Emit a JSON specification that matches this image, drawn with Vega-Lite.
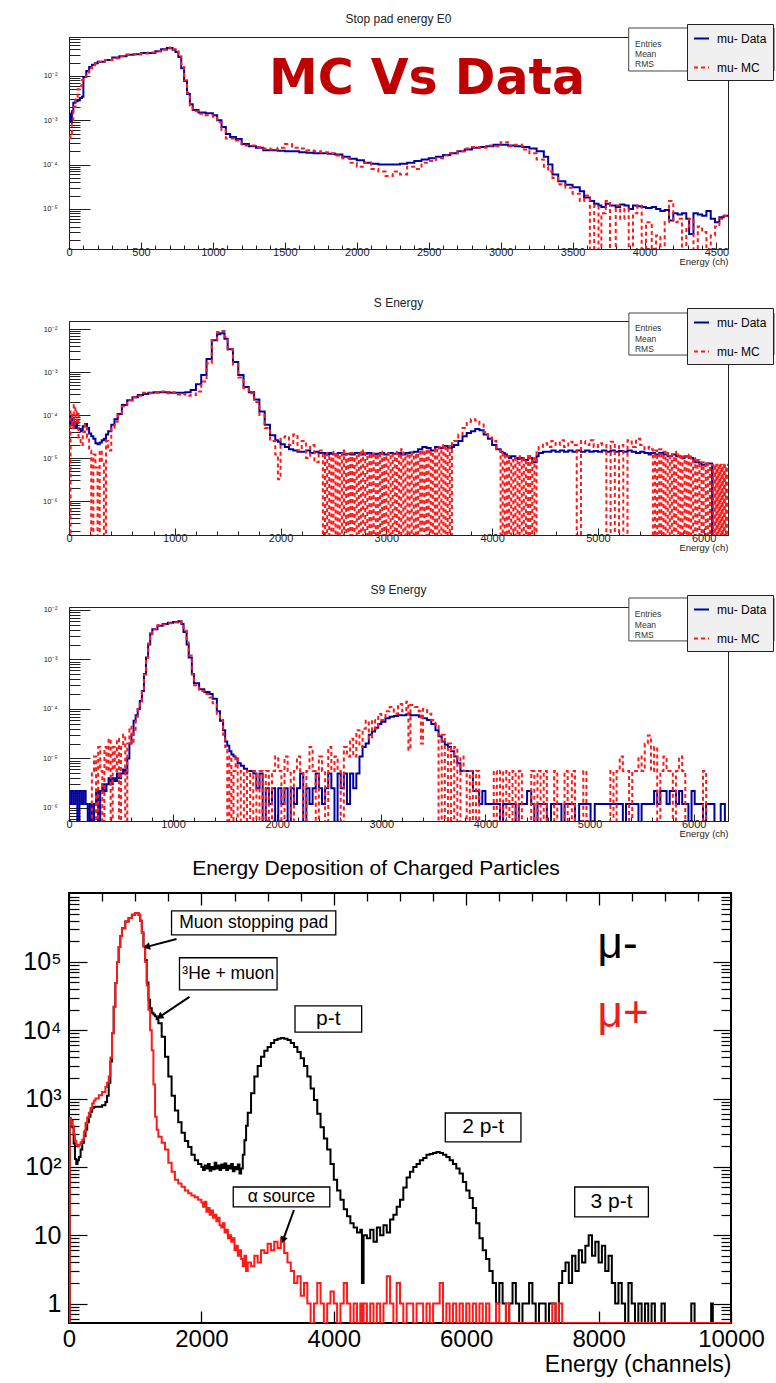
{
"$schema": "https://vega.github.io/schema/vega-lite/v6.json",
"background": "white",
"padding": {"left": 21, "top": 12, "right": 0, "bottom": 0},
"spacing": 72,
"bounds": "flush",
"resolve": {"scale": {"color": "independent", "strokeDash": "independent", "x": "independent", "y": "independent"}},
"config": {
  "font": "Liberation Sans",
  "view": {"stroke": null},
  "axis": {"grid": false, "domainColor": "#222", "tickColor": "#222", "labelColor": "#222", "titleColor": "#222", "titleFontWeight": "normal", "labelOverlap": false, "labelFlush": false, "labelBound": false},
  "title": {"fontWeight": "normal", "color": "#222", "frame": "group"}
},
"datasets": {
"p1": [
{"E":0,"Data":1.4e-3,"MC":4e-4},{"E":10,"Data":9.5e-4,"MC":5e-4},{"E":20,"Data":1.6e-3,"MC":1e-3},{"E":30,"Data":2.5e-3,"MC":2e-3},{"E":45,"Data":2.7e-3,"MC":3.4e-3},{"E":60,"Data":2.8e-3,"MC":5e-3},{"E":75,"Data":3.2e-3,"MC":6e-3},{"E":90,"Data":3.4e-3,"MC":8e-3},{"E":100,"Data":9.5e-3,"MC":9.5e-3},{"E":120,"Data":1.3e-2,"MC":1.2e-2},{"E":140,"Data":1.6e-2,"MC":1.5e-2},{"E":160,"Data":1.8e-2,"MC":1.75e-2},{"E":180,"Data":1.95e-2,"MC":1.9e-2},{"E":200,"Data":2.1e-2,"MC":2.1e-2},{"E":250,"Data":2.3e-2,"MC":2.3e-2},{"E":300,"Data":2.6e-2,"MC":2.5e-2},{"E":350,"Data":2.8e-2,"MC":2.8e-2},{"E":400,"Data":3e-2,"MC":3e-2},{"E":450,"Data":3.1e-2,"MC":3.1e-2},{"E":500,"Data":3.3e-2,"MC":3.2e-2},{"E":550,"Data":3.3e-2,"MC":3.4e-2},{"E":600,"Data":3.6e-2,"MC":3.6e-2},{"E":640,"Data":4e-2,"MC":3.9e-2},{"E":680,"Data":4.3e-2,"MC":4.2e-2},{"E":700,"Data":4.3e-2,"MC":4.4e-2},{"E":720,"Data":3.9e-2,"MC":4e-2},{"E":740,"Data":3.5e-2,"MC":3.6e-2},{"E":760,"Data":2.7e-2,"MC":2.8e-2},{"E":780,"Data":1.5e-2,"MC":1.6e-2},{"E":800,"Data":7.7e-3,"MC":8e-3},{"E":820,"Data":3.9e-3,"MC":4.2e-3},{"E":840,"Data":2.3e-3,"MC":2.2e-3},{"E":860,"Data":1.7e-3,"MC":1.6e-3},{"E":900,"Data":1.5e-3,"MC":1.4e-3},{"E":950,"Data":1.45e-3,"MC":1.3e-3},{"E":1000,"Data":1.3e-3,"MC":1.2e-3},{"E":1030,"Data":1e-3,"MC":9e-4},{"E":1060,"Data":7.1e-4,"MC":6e-4},{"E":1090,"Data":4.9e-4,"MC":3.9e-4},{"E":1120,"Data":4.2e-4,"MC":3.9e-4},{"E":1160,"Data":3.8e-4,"MC":3.5e-4},{"E":1200,"Data":2.9e-4,"MC":2.7e-4},{"E":1250,"Data":2.6e-4,"MC":2.7e-4},{"E":1300,"Data":2.4e-4,"MC":2.5e-4},{"E":1350,"Data":2.1e-4,"MC":2.3e-4},{"E":1400,"Data":2.1e-4,"MC":2.2e-4},{"E":1450,"Data":2.05e-4,"MC":2.4e-4},{"E":1500,"Data":2e-4,"MC":2.9e-4},{"E":1550,"Data":2e-4,"MC":2.4e-4},{"E":1600,"Data":1.9e-4,"MC":2.3e-4},{"E":1650,"Data":1.85e-4,"MC":2.1e-4},{"E":1700,"Data":1.8e-4,"MC":2e-4},{"E":1750,"Data":1.8e-4,"MC":1.9e-4},{"E":1800,"Data":1.75e-4,"MC":1.8e-4},{"E":1850,"Data":1.7e-4,"MC":1.6e-4},{"E":1900,"Data":1.5e-4,"MC":1.4e-4},{"E":1950,"Data":1.35e-4,"MC":1.1e-4},{"E":2000,"Data":1.25e-4,"MC":9e-5},{"E":2050,"Data":1.1e-4,"MC":1.1e-4},{"E":2100,"Data":1.05e-4,"MC":8e-5},{"E":2150,"Data":1e-4,"MC":7e-5},{"E":2200,"Data":1e-4,"MC":5.5e-5},{"E":2250,"Data":1e-4,"MC":7e-5},{"E":2300,"Data":1.05e-4,"MC":6e-5},{"E":2350,"Data":1.1e-4,"MC":9e-5},{"E":2400,"Data":1.2e-4,"MC":8e-5},{"E":2450,"Data":1.3e-4,"MC":1.1e-4},{"E":2500,"Data":1.4e-4,"MC":1.2e-4},{"E":2550,"Data":1.5e-4,"MC":1.4e-4},{"E":2600,"Data":1.65e-4,"MC":1.6e-4},{"E":2650,"Data":1.8e-4,"MC":1.8e-4},{"E":2700,"Data":2e-4,"MC":2e-4},{"E":2750,"Data":2.2e-4,"MC":2.3e-4},{"E":2800,"Data":2.4e-4,"MC":2.5e-4},{"E":2850,"Data":2.5e-4,"MC":2.4e-4},{"E":2900,"Data":2.6e-4,"MC":2.7e-4},{"E":2950,"Data":2.8e-4,"MC":2.6e-4},{"E":3000,"Data":2.8e-4,"MC":3.2e-4},{"E":3050,"Data":2.7e-4,"MC":2.6e-4},{"E":3100,"Data":2.6e-4,"MC":2.8e-4},{"E":3150,"Data":2.5e-4,"MC":2.2e-4},{"E":3200,"Data":2.3e-4,"MC":1.8e-4},{"E":3250,"Data":2e-4,"MC":1.3e-4},{"E":3300,"Data":1.5e-4,"MC":9e-5},{"E":3330,"Data":1e-4,"MC":7e-5},{"E":3360,"Data":6e-5,"MC":5e-5},{"E":3400,"Data":4.2e-5,"MC":3.6e-5},{"E":3450,"Data":3.5e-5,"MC":3e-5},{"E":3500,"Data":3.1e-5,"MC":2.2e-5},{"E":3550,"Data":2.5e-5,"MC":1.5e-5},{"E":3580,"Data":1.8e-5,"MC":2e-5},{"E":3620,"Data":1.5e-5,"MC":1e-9},{"E":3650,"Data":1.3e-5,"MC":1.2e-5},{"E":3680,"Data":1.2e-5,"MC":1e-9},{"E":3700,"Data":1.1e-5,"MC":8e-6},{"E":3730,"Data":1.3e-5,"MC":1.5e-5},{"E":3760,"Data":1.2e-5,"MC":1e-9},{"E":3800,"Data":1.1e-5,"MC":1.2e-5},{"E":3830,"Data":1.25e-5,"MC":6e-6},{"E":3860,"Data":1.2e-5,"MC":1e-5},{"E":3890,"Data":1e-5,"MC":1e-9},{"E":3920,"Data":1.2e-5,"MC":8e-6},{"E":3950,"Data":1.15e-5,"MC":1.2e-5},{"E":3980,"Data":1.1e-5,"MC":1e-9},{"E":4010,"Data":1.05e-5,"MC":5e-6},{"E":4050,"Data":1.1e-5,"MC":1e-9},{"E":4080,"Data":1e-5,"MC":2.5e-6},{"E":4110,"Data":9e-6,"MC":1e-9},{"E":4140,"Data":9.5e-6,"MC":5e-6},{"E":4170,"Data":5.5e-6,"MC":1.5e-5},{"E":4200,"Data":8e-6,"MC":5e-6},{"E":4230,"Data":7.5e-6,"MC":6e-6},{"E":4260,"Data":8e-6,"MC":1e-9},{"E":4290,"Data":6e-6,"MC":4e-6},{"E":4310,"Data":2.7e-6,"MC":6e-6},{"E":4340,"Data":8e-6,"MC":1e-9},{"E":4370,"Data":7.5e-6,"MC":4e-6},{"E":4400,"Data":7e-6,"MC":3e-6},{"E":4430,"Data":9e-6,"MC":1e-9},{"E":4460,"Data":6e-6,"MC":2.5e-6},{"E":4490,"Data":5e-6,"MC":4e-6},{"E":4520,"Data":6.5e-6,"MC":6e-6},{"E":4550,"Data":7e-6,"MC":7e-6},{"E":4580,"Data":7e-6,"MC":7e-6}
],
"p2": [
{"E":0,"Data":9e-5,"MC":1e-9},{"E":15,"Data":6e-5,"MC":1.2e-4},{"E":30,"Data":8e-5,"MC":5e-5},{"E":45,"Data":5e-5,"MC":1.7e-4},{"E":60,"Data":7e-5,"MC":6e-5},{"E":75,"Data":5e-5,"MC":1.2e-4},{"E":90,"Data":4.7e-5,"MC":3e-5},{"E":110,"Data":4.2e-5,"MC":2e-5},{"E":130,"Data":5.5e-5,"MC":4e-5},{"E":150,"Data":6.2e-5,"MC":6e-5},{"E":170,"Data":5e-5,"MC":3e-5},{"E":190,"Data":3.7e-5,"MC":1.5e-5},{"E":210,"Data":3.2e-5,"MC":1e-9},{"E":230,"Data":2.8e-5,"MC":1.2e-5},{"E":250,"Data":2.2e-5,"MC":6e-6},{"E":270,"Data":2.1e-5,"MC":1e-9},{"E":290,"Data":2.3e-5,"MC":1.5e-5},{"E":310,"Data":2.6e-5,"MC":8e-6},{"E":330,"Data":2.8e-5,"MC":1e-9},{"E":350,"Data":3.5e-5,"MC":2.5e-5},{"E":370,"Data":4.2e-5,"MC":1.5e-5},{"E":400,"Data":5.9e-5,"MC":5e-5},{"E":430,"Data":8e-5,"MC":7e-5},{"E":460,"Data":1.05e-4,"MC":1e-4},{"E":500,"Data":1.7e-4,"MC":1.6e-4},{"E":550,"Data":2.2e-4,"MC":2.2e-4},{"E":600,"Data":2.6e-4,"MC":2.6e-4},{"E":650,"Data":2.9e-4,"MC":2.8e-4},{"E":700,"Data":3.1e-4,"MC":3.3e-4},{"E":750,"Data":3.3e-4,"MC":3.2e-4},{"E":800,"Data":3.4e-4,"MC":3.3e-4},{"E":850,"Data":3.4e-4,"MC":3.5e-4},{"E":900,"Data":3.4e-4,"MC":3.2e-4},{"E":950,"Data":3.3e-4,"MC":3.4e-4},{"E":1000,"Data":3.3e-4,"MC":3e-4},{"E":1050,"Data":3.3e-4,"MC":3.1e-4},{"E":1100,"Data":3.4e-4,"MC":2.8e-4},{"E":1150,"Data":3.8e-4,"MC":2.9e-4},{"E":1200,"Data":5.2e-4,"MC":3.5e-4},{"E":1250,"Data":8.5e-4,"MC":6e-4},{"E":1300,"Data":2e-3,"MC":1.6e-3},{"E":1350,"Data":5.5e-3,"MC":5.5e-3},{"E":1400,"Data":7.6e-3,"MC":8.5e-3},{"E":1430,"Data":8e-3,"MC":9e-3},{"E":1470,"Data":5.9e-3,"MC":6.5e-3},{"E":1500,"Data":3.4e-3,"MC":3.4e-3},{"E":1550,"Data":1.7e-3,"MC":1.5e-3},{"E":1600,"Data":8.5e-4,"MC":7.5e-4},{"E":1650,"Data":4.5e-4,"MC":4.2e-4},{"E":1700,"Data":3.4e-4,"MC":3.2e-4},{"E":1750,"Data":2.3e-4,"MC":2e-4},{"E":1800,"Data":1.2e-4,"MC":1e-4},{"E":1850,"Data":5.9e-5,"MC":5e-5},{"E":1900,"Data":3.4e-5,"MC":2.5e-5},{"E":1950,"Data":2.6e-5,"MC":1.2e-5},{"E":1975,"Data":2.4e-5,"MC":3.2e-6},{"E":2000,"Data":2.1e-5,"MC":3e-5},{"E":2040,"Data":1.8e-5,"MC":3.2e-5},{"E":2080,"Data":1.6e-5,"MC":2e-5},{"E":2120,"Data":1.5e-5,"MC":3.5e-5},{"E":2160,"Data":1.4e-5,"MC":1.5e-5},{"E":2200,"Data":1.4e-5,"MC":2.5e-5},{"E":2240,"Data":1.5e-5,"MC":1e-5},{"E":2280,"Data":1.3e-5,"MC":2e-5},{"E":2320,"Data":1.4e-5,"MC":8e-6},{"E":2360,"Data":1.3e-5,"MC":1.5e-5},
{"E":2400,"Data":1.3e-5,"MC":1e-9},{"E":2420,"Data":1.25e-5,"MC":1.3e-5},{"E":2440,"Data":1.2e-5,"MC":1e-9},{"E":2460,"Data":1.3e-5,"MC":1.1e-5},{"E":2480,"Data":1.25e-5,"MC":1e-9},{"E":2500,"Data":1.2e-5,"MC":1.4e-5},{"E":2520,"Data":1.2e-5,"MC":1e-9},{"E":2540,"Data":1.3e-5,"MC":1.2e-5},{"E":2560,"Data":1.3e-5,"MC":1e-9},{"E":2580,"Data":1.2e-5,"MC":1.5e-5},{"E":2600,"Data":1.2e-5,"MC":1e-9},{"E":2620,"Data":1.25e-5,"MC":1.2e-5},{"E":2640,"Data":1.25e-5,"MC":1e-9},{"E":2660,"Data":1.2e-5,"MC":1.3e-5},{"E":2680,"Data":1.2e-5,"MC":1e-9},{"E":2700,"Data":1.3e-5,"MC":1.1e-5},{"E":2720,"Data":1.3e-5,"MC":1e-9},{"E":2740,"Data":1.2e-5,"MC":1.4e-5},{"E":2760,"Data":1.2e-5,"MC":1e-9},{"E":2780,"Data":1.25e-5,"MC":1.5e-5},{"E":2800,"Data":1.25e-5,"MC":1e-9},{"E":2820,"Data":1.3e-5,"MC":1.2e-5},{"E":2840,"Data":1.3e-5,"MC":1e-9},{"E":2860,"Data":1.2e-5,"MC":1.3e-5},{"E":2880,"Data":1.2e-5,"MC":1e-9},{"E":2900,"Data":1.25e-5,"MC":1.2e-5},{"E":2920,"Data":1.25e-5,"MC":1e-9},{"E":2940,"Data":1.3e-5,"MC":1.4e-5},{"E":2960,"Data":1.3e-5,"MC":1e-9},{"E":2980,"Data":1.2e-5,"MC":1.1e-5},{"E":3000,"Data":1.2e-5,"MC":1e-9},{"E":3020,"Data":1.3e-5,"MC":1.3e-5},{"E":3040,"Data":1.3e-5,"MC":1e-9},{"E":3060,"Data":1.25e-5,"MC":1.2e-5},{"E":3080,"Data":1.25e-5,"MC":1e-9},{"E":3100,"Data":1.3e-5,"MC":1.4e-5},{"E":3120,"Data":1.3e-5,"MC":1e-9},{"E":3140,"Data":1.2e-5,"MC":1.6e-5},{"E":3160,"Data":1.2e-5,"MC":1e-9},{"E":3180,"Data":1.3e-5,"MC":1.2e-5},{"E":3200,"Data":1.3e-5,"MC":1e-9},{"E":3220,"Data":1.35e-5,"MC":1.3e-5},{"E":3240,"Data":1.35e-5,"MC":1e-9},{"E":3260,"Data":1.4e-5,"MC":1.2e-5},{"E":3280,"Data":1.4e-5,"MC":1e-9},{"E":3300,"Data":1.6e-5,"MC":1.4e-5},{"E":3320,"Data":1.6e-5,"MC":1e-9},{"E":3340,"Data":1.8e-5,"MC":1.5e-5},{"E":3360,"Data":1.8e-5,"MC":1e-9},{"E":3380,"Data":1.7e-5,"MC":1.6e-5},{"E":3400,"Data":1.7e-5,"MC":1e-9},{"E":3420,"Data":1.5e-5,"MC":1.4e-5},{"E":3440,"Data":1.5e-5,"MC":1e-9},{"E":3460,"Data":1.8e-5,"MC":1.7e-5},{"E":3480,"Data":1.8e-5,"MC":1e-9},{"E":3500,"Data":1.7e-5,"MC":1.8e-5},{"E":3520,"Data":1.7e-5,"MC":1e-9},{"E":3540,"Data":1.9e-5,"MC":2e-5},{"E":3560,"Data":1.9e-5,"MC":1e-9},{"E":3580,"Data":1.7e-5,"MC":1.9e-5},{"E":3600,"Data":1.7e-5,"MC":1e-9},{"E":3620,"Data":1.8e-5,"MC":2.2e-5},
{"E":3640,"Data":2e-5,"MC":2.5e-5},{"E":3680,"Data":2.5e-5,"MC":3.5e-5},{"E":3720,"Data":3.2e-5,"MC":5e-5},{"E":3760,"Data":3.8e-5,"MC":7e-5},{"E":3800,"Data":4.2e-5,"MC":8e-5},{"E":3840,"Data":4.7e-5,"MC":7.5e-5},{"E":3880,"Data":4.4e-5,"MC":6e-5},{"E":3920,"Data":3.5e-5,"MC":4e-5},{"E":3960,"Data":2.8e-5,"MC":3e-5},{"E":4000,"Data":2e-5,"MC":2.5e-5},{"E":4040,"Data":1.6e-5,"MC":1.5e-5},
{"E":4080,"Data":1.4e-5,"MC":1e-9},{"E":4100,"Data":1.3e-5,"MC":1.3e-5},{"E":4120,"Data":1.2e-5,"MC":1e-9},{"E":4140,"Data":1.1e-5,"MC":1.1e-5},{"E":4160,"Data":1e-5,"MC":1e-9},{"E":4180,"Data":1.1e-5,"MC":9e-6},{"E":4200,"Data":1.1e-5,"MC":1e-9},{"E":4220,"Data":1e-5,"MC":1e-5},{"E":4240,"Data":9.5e-6,"MC":1e-9},{"E":4260,"Data":1e-5,"MC":1.1e-5},{"E":4280,"Data":1e-5,"MC":1e-9},{"E":4300,"Data":9e-6,"MC":1e-5},{"E":4320,"Data":9e-6,"MC":1e-9},{"E":4340,"Data":1e-5,"MC":1.2e-5},{"E":4360,"Data":1e-5,"MC":1e-9},{"E":4380,"Data":8e-6,"MC":1e-5},{"E":4400,"Data":8e-6,"MC":1e-9},{"E":4420,"Data":1.1e-5,"MC":1.5e-5},
{"E":4440,"Data":1.3e-5,"MC":1.8e-5},{"E":4480,"Data":1.4e-5,"MC":2.2e-5},{"E":4520,"Data":1.4e-5,"MC":1.8e-5},{"E":4560,"Data":1.5e-5,"MC":2.5e-5},{"E":4600,"Data":1.4e-5,"MC":2e-5},{"E":4640,"Data":1.5e-5,"MC":2.6e-5},{"E":4680,"Data":1.4e-5,"MC":1.8e-5},{"E":4720,"Data":1.5e-5,"MC":2.4e-5},{"E":4760,"Data":1.4e-5,"MC":2e-5},{"E":4800,"Data":1.5e-5,"MC":1e-9},{"E":4840,"Data":1.4e-5,"MC":2.5e-5},{"E":4880,"Data":1.5e-5,"MC":2e-5},{"E":4920,"Data":1.4e-5,"MC":2.6e-5},{"E":4960,"Data":1.45e-5,"MC":1.8e-5},{"E":5000,"Data":1.4e-5,"MC":2.2e-5},{"E":5040,"Data":1.5e-5,"MC":2e-5},{"E":5080,"Data":1.4e-5,"MC":1e-9},{"E":5120,"Data":1.5e-5,"MC":2.4e-5},{"E":5160,"Data":1.4e-5,"MC":1e-9},{"E":5200,"Data":1.45e-5,"MC":2e-5},{"E":5240,"Data":1.4e-5,"MC":1e-9},{"E":5280,"Data":1.5e-5,"MC":2.6e-5},{"E":5320,"Data":1.4e-5,"MC":1.8e-5},{"E":5360,"Data":1.3e-5,"MC":2.8e-5},{"E":5400,"Data":1.4e-5,"MC":2e-5},{"E":5440,"Data":1.3e-5,"MC":1.6e-5},{"E":5480,"Data":1.2e-5,"MC":1.8e-5},
{"E":5500,"Data":1.3e-5,"MC":1.6e-5},{"E":5520,"Data":1.3e-5,"MC":1e-9},{"E":5540,"Data":1.2e-5,"MC":1.5e-5},{"E":5560,"Data":1.2e-5,"MC":1e-9},{"E":5580,"Data":1.3e-5,"MC":1.6e-5},{"E":5600,"Data":1.3e-5,"MC":1e-9},{"E":5620,"Data":1.2e-5,"MC":1.4e-5},{"E":5640,"Data":1.2e-5,"MC":1e-9},{"E":5660,"Data":1.1e-5,"MC":1.3e-5},{"E":5680,"Data":1.1e-5,"MC":1e-9},{"E":5700,"Data":1.2e-5,"MC":1.2e-5},{"E":5720,"Data":1.2e-5,"MC":1e-9},{"E":5740,"Data":1.1e-5,"MC":1.4e-5},{"E":5760,"Data":1.1e-5,"MC":1e-9},{"E":5780,"Data":1.05e-5,"MC":1.2e-5},{"E":5800,"Data":1e-5,"MC":1e-9},{"E":5820,"Data":1.1e-5,"MC":1.1e-5},{"E":5840,"Data":1.1e-5,"MC":1e-9},{"E":5860,"Data":1e-5,"MC":1.2e-5},{"E":5880,"Data":1e-5,"MC":1e-9},{"E":5900,"Data":9e-6,"MC":1e-5},{"E":5920,"Data":8e-6,"MC":1e-9},{"E":5940,"Data":8e-6,"MC":9e-6},{"E":5960,"Data":7.5e-6,"MC":1e-9},{"E":5980,"Data":7e-6,"MC":8e-6},{"E":6000,"Data":7e-6,"MC":1e-9},{"E":6020,"Data":7.5e-6,"MC":8e-6},{"E":6040,"Data":7.5e-6,"MC":1e-9},{"E":6060,"Data":7.5e-6,"MC":7e-6},
{"E":6080,"Data":1e-9,"MC":7e-6},{"E":6090,"Data":1e-9,"MC":1e-9},{"E":6100,"Data":1e-9,"MC":7e-6},{"E":6110,"Data":1e-9,"MC":1e-9},{"E":6120,"Data":1e-9,"MC":7e-6},{"E":6130,"Data":1e-9,"MC":1e-9},{"E":6140,"Data":1e-9,"MC":7e-6},{"E":6150,"Data":1e-9,"MC":1e-9},{"E":6160,"Data":1e-9,"MC":7e-6},{"E":6170,"Data":1e-9,"MC":1e-9},{"E":6180,"Data":1e-9,"MC":7e-6},{"E":6190,"Data":1e-9,"MC":1e-9},{"E":6200,"Data":1e-9,"MC":7e-6},{"E":6210,"Data":1e-9,"MC":1e-9},{"E":6220,"Data":1e-9,"MC":7e-6},{"E":6230,"Data":1e-9,"MC":7e-6}
],
"p3": [
{"E":0,"Data":1.2e-6,"MC":1e-9},{"E":20,"Data":2.2e-6,"MC":1e-9},{"E":40,"Data":1.2e-6,"MC":1e-9},{"E":60,"Data":2.2e-6,"MC":1e-9},{"E":80,"Data":1e-9,"MC":1e-9},{"E":100,"Data":2.2e-6,"MC":1e-9},{"E":120,"Data":1.2e-6,"MC":1e-9},{"E":140,"Data":2.2e-6,"MC":1e-9},{"E":160,"Data":1.2e-6,"MC":1e-9},{"E":180,"Data":1e-9,"MC":1e-9},{"E":200,"Data":1.2e-6,"MC":1e-9},{"E":220,"Data":1e-9,"MC":5.6e-6},{"E":240,"Data":1.2e-6,"MC":1.1e-5},{"E":260,"Data":2.2e-6,"MC":1e-9},{"E":280,"Data":1e-9,"MC":1.7e-5},{"E":300,"Data":2.2e-6,"MC":5.6e-6},{"E":320,"Data":3e-6,"MC":1e-9},{"E":340,"Data":2.2e-6,"MC":1.7e-5},{"E":360,"Data":3e-6,"MC":5.6e-6},{"E":380,"Data":4e-6,"MC":2.5e-5},{"E":400,"Data":3e-6,"MC":1e-9},{"E":420,"Data":4e-6,"MC":1.7e-5},{"E":440,"Data":3.5e-6,"MC":5.6e-6},{"E":460,"Data":5e-6,"MC":2.5e-5},{"E":480,"Data":4e-6,"MC":1e-9},{"E":500,"Data":5e-6,"MC":1.7e-5},{"E":520,"Data":6e-6,"MC":3e-5},{"E":540,"Data":5e-6,"MC":1e-9},{"E":560,"Data":1e-5,"MC":2e-5},{"E":580,"Data":2e-5,"MC":4.4e-5},{"E":600,"Data":3e-5,"MC":2e-5},{"E":620,"Data":5.8e-5,"MC":3.5e-5},{"E":640,"Data":7.5e-5,"MC":7e-5},{"E":660,"Data":1e-4,"MC":1e-4},{"E":680,"Data":1.45e-4,"MC":1.4e-4},{"E":700,"Data":2.3e-4,"MC":2.3e-4},{"E":720,"Data":5.1e-4,"MC":5e-4},{"E":740,"Data":1.1e-3,"MC":1.1e-3},{"E":760,"Data":2e-3,"MC":2.1e-3},{"E":780,"Data":3.3e-3,"MC":3.4e-3},{"E":800,"Data":4.1e-3,"MC":4.1e-3},{"E":850,"Data":4.8e-3,"MC":4.9e-3},{"E":900,"Data":5.2e-3,"MC":5.1e-3},{"E":950,"Data":5.5e-3,"MC":5.4e-3},{"E":1000,"Data":5.7e-3,"MC":5.6e-3},{"E":1050,"Data":5.9e-3,"MC":5.9e-3},{"E":1080,"Data":5.2e-3,"MC":5.4e-3},{"E":1100,"Data":3.6e-3,"MC":3.8e-3},{"E":1130,"Data":2e-3,"MC":2.2e-3},{"E":1150,"Data":1.1e-3,"MC":1.2e-3},{"E":1180,"Data":5.1e-4,"MC":5e-4},{"E":1200,"Data":3.3e-4,"MC":3e-4},{"E":1250,"Data":2.5e-4,"MC":2.3e-4},{"E":1300,"Data":2.2e-4,"MC":2e-4},{"E":1350,"Data":2e-4,"MC":1.7e-4},{"E":1380,"Data":1.6e-4,"MC":1.3e-4},{"E":1420,"Data":9e-5,"MC":8e-5},{"E":1450,"Data":5.8e-5,"MC":6e-5},{"E":1480,"Data":3.7e-5,"MC":3e-5},{"E":1500,"Data":2.2e-5,"MC":1.7e-5},{"E":1520,"Data":1.8e-5,"MC":1e-9},{"E":1540,"Data":1.4e-5,"MC":1.1e-5},{"E":1560,"Data":1.2e-5,"MC":1e-9},{"E":1580,"Data":1.1e-5,"MC":5.6e-6},{"E":1600,"Data":1e-5,"MC":1.1e-5},{"E":1620,"Data":8e-6,"MC":1e-9},{"E":1650,"Data":7.1e-6,"MC":5.6e-6},{"E":1680,"Data":6.2e-6,"MC":1e-9},{"E":1710,"Data":5.6e-6,"MC":5.6e-6},{"E":1740,"Data":5.6e-6,"MC":1e-9},{"E":1770,"Data":5e-6,"MC":5.6e-6},{"E":1800,"Data":2.5e-6,"MC":1e-9},{"E":1830,"Data":5e-6,"MC":5.6e-6},{"E":1860,"Data":1e-9,"MC":1e-9},{"E":1890,"Data":2.5e-6,"MC":5.6e-6},{"E":1920,"Data":1.2e-6,"MC":1e-9},{"E":1950,"Data":2.5e-6,"MC":5.6e-6},{"E":1980,"Data":1e-9,"MC":1.1e-5},{"E":2010,"Data":2.5e-6,"MC":5.6e-6},{"E":2040,"Data":1.2e-6,"MC":1e-9},{"E":2070,"Data":2.5e-6,"MC":1.1e-5},{"E":2100,"Data":1e-9,"MC":5.6e-6},{"E":2130,"Data":2.5e-6,"MC":1e-9},{"E":2160,"Data":1.2e-6,"MC":5.6e-6},{"E":2190,"Data":2.5e-6,"MC":1.1e-5},{"E":2220,"Data":5e-6,"MC":5.6e-6},{"E":2250,"Data":1e-9,"MC":1e-9},{"E":2280,"Data":2.5e-6,"MC":5.6e-6},{"E":2310,"Data":1.2e-6,"MC":1.7e-5},{"E":2340,"Data":2.5e-6,"MC":5.6e-6},{"E":2370,"Data":5e-6,"MC":1e-9},{"E":2400,"Data":2.5e-6,"MC":1.1e-5},{"E":2430,"Data":1.2e-6,"MC":5.6e-6},{"E":2460,"Data":2.5e-6,"MC":1e-9},{"E":2490,"Data":5e-6,"MC":1.7e-5},{"E":2520,"Data":2.5e-6,"MC":5.6e-6},{"E":2550,"Data":1e-9,"MC":1.1e-5},{"E":2580,"Data":5e-6,"MC":5.6e-6},{"E":2610,"Data":2.5e-6,"MC":1e-9},{"E":2640,"Data":5e-6,"MC":1.7e-5},{"E":2670,"Data":1.2e-6,"MC":1.1e-5},{"E":2700,"Data":5e-6,"MC":2.5e-5},{"E":2730,"Data":2.5e-6,"MC":1.1e-5},{"E":2760,"Data":5e-6,"MC":3.7e-5},{"E":2790,"Data":1.1e-5,"MC":1.7e-5},{"E":2820,"Data":1.7e-5,"MC":4e-5},{"E":2850,"Data":2e-5,"MC":5.8e-5},{"E":2880,"Data":3e-5,"MC":2.5e-5},{"E":2910,"Data":3.5e-5,"MC":6e-5},{"E":2940,"Data":4.2e-5,"MC":4e-5},{"E":2970,"Data":5e-5,"MC":7.9e-5},{"E":3000,"Data":5.5e-5,"MC":6e-5},{"E":3040,"Data":6.5e-5,"MC":9e-5},{"E":3080,"Data":7e-5,"MC":1.1e-4},{"E":3120,"Data":7.2e-5,"MC":8e-5},{"E":3160,"Data":7.5e-5,"MC":1.26e-4},{"E":3200,"Data":7.5e-5,"MC":9e-5},{"E":3240,"Data":7.8e-5,"MC":1.4e-4},{"E":3260,"Data":7.8e-5,"MC":1.5e-5},{"E":3280,"Data":7.5e-5,"MC":1.2e-4},{"E":3320,"Data":7.5e-5,"MC":1.1e-4},{"E":3360,"Data":7e-5,"MC":9e-5},{"E":3380,"Data":7e-5,"MC":2e-5},{"E":3400,"Data":6.5e-5,"MC":1e-4},{"E":3440,"Data":6e-5,"MC":8e-5},{"E":3480,"Data":5e-5,"MC":6e-5},{"E":3520,"Data":3.7e-5,"MC":4.5e-5},{"E":3550,"Data":2.8e-5,"MC":1e-9},{"E":3580,"Data":2.2e-5,"MC":3e-5},{"E":3610,"Data":1.9e-5,"MC":1e-9},{"E":3640,"Data":1.7e-5,"MC":2e-5},{"E":3670,"Data":1.4e-5,"MC":1e-9},{"E":3700,"Data":1.1e-5,"MC":1.7e-5},{"E":3730,"Data":8e-6,"MC":1e-9},{"E":3760,"Data":5.6e-6,"MC":1.1e-5},{"E":3790,"Data":5.6e-6,"MC":5.6e-6},{"E":3820,"Data":5.6e-6,"MC":1e-9},{"E":3850,"Data":5.6e-6,"MC":5.6e-6},{"E":3880,"Data":2.2e-6,"MC":1e-9},{"E":3910,"Data":2.2e-6,"MC":5.6e-6},{"E":3940,"Data":1.2e-6,"MC":1e-9},{"E":3970,"Data":2.2e-6,"MC":1e-9},{"E":4000,"Data":1.2e-6,"MC":1e-9},{"E":4040,"Data":1.2e-6,"MC":1e-9},{"E":4080,"Data":1.2e-6,"MC":5.6e-6},{"E":4110,"Data":1.2e-6,"MC":1e-9},{"E":4140,"Data":1e-9,"MC":5.6e-6},{"E":4170,"Data":1.2e-6,"MC":1e-9},{"E":4200,"Data":1.2e-6,"MC":5.6e-6},{"E":4230,"Data":1.2e-6,"MC":1e-9},{"E":4260,"Data":1.2e-6,"MC":5.6e-6},{"E":4290,"Data":1e-9,"MC":1e-9},{"E":4320,"Data":1.2e-6,"MC":5.6e-6},{"E":4350,"Data":1.2e-6,"MC":1e-9},{"E":4400,"Data":2.2e-6,"MC":1e-9},{"E":4440,"Data":1.2e-6,"MC":5.6e-6},{"E":4470,"Data":1e-9,"MC":1e-9},{"E":4500,"Data":1.2e-6,"MC":5.6e-6},{"E":4530,"Data":1.2e-6,"MC":1e-9},{"E":4560,"Data":1.2e-6,"MC":5.6e-6},{"E":4590,"Data":1e-9,"MC":1e-9},{"E":4630,"Data":1.2e-6,"MC":1e-9},{"E":4660,"Data":1.2e-6,"MC":5.6e-6},{"E":4690,"Data":1.2e-6,"MC":1e-9},{"E":4730,"Data":1e-9,"MC":1e-9},{"E":4760,"Data":1.2e-6,"MC":5.6e-6},{"E":4790,"Data":1.2e-6,"MC":1e-9},{"E":4830,"Data":1.2e-6,"MC":5.6e-6},{"E":4860,"Data":1e-9,"MC":1e-9},{"E":4900,"Data":1.2e-6,"MC":1e-9},{"E":4940,"Data":1.2e-6,"MC":5.6e-6},{"E":4970,"Data":1.2e-6,"MC":1e-9},{"E":5010,"Data":1e-9,"MC":1e-9},{"E":5050,"Data":1.2e-6,"MC":1e-9},{"E":5100,"Data":1.2e-6,"MC":1e-9},{"E":5150,"Data":1.2e-6,"MC":1e-9},{"E":5200,"Data":1.2e-6,"MC":5.6e-6},{"E":5230,"Data":1.2e-6,"MC":1e-9},{"E":5260,"Data":1.2e-6,"MC":5.6e-6},{"E":5290,"Data":1.2e-6,"MC":1.1e-5},{"E":5320,"Data":1e-9,"MC":5.6e-6},{"E":5350,"Data":1.2e-6,"MC":5.6e-6},{"E":5380,"Data":1.2e-6,"MC":1e-9},{"E":5410,"Data":1.2e-6,"MC":5.6e-6},{"E":5440,"Data":1.2e-6,"MC":5.6e-6},{"E":5470,"Data":1e-9,"MC":1.1e-5},{"E":5500,"Data":1.2e-6,"MC":5.6e-6},{"E":5530,"Data":1.2e-6,"MC":2e-5},{"E":5560,"Data":1.2e-6,"MC":2.9e-5},{"E":5590,"Data":1.2e-6,"MC":5.6e-6},{"E":5620,"Data":2.2e-6,"MC":1.7e-5},{"E":5650,"Data":1.2e-6,"MC":1e-9},{"E":5680,"Data":2.2e-6,"MC":5.6e-6},{"E":5710,"Data":2.2e-6,"MC":1.1e-5},{"E":5740,"Data":1.2e-6,"MC":5.6e-6},{"E":5770,"Data":2.2e-6,"MC":5.6e-6},{"E":5800,"Data":2.2e-6,"MC":1e-9},{"E":5830,"Data":1.2e-6,"MC":5.6e-6},{"E":5860,"Data":2.2e-6,"MC":1.1e-5},{"E":5890,"Data":1.2e-6,"MC":5.6e-6},{"E":5920,"Data":1.2e-6,"MC":1e-9},{"E":5950,"Data":1e-9,"MC":1e-9},{"E":5980,"Data":2.2e-6,"MC":1e-9},{"E":6010,"Data":1.2e-6,"MC":1e-9},{"E":6060,"Data":1.2e-6,"MC":1e-9},{"E":6090,"Data":1e-9,"MC":5.6e-6},{"E":6120,"Data":1.2e-6,"MC":1e-9},{"E":6160,"Data":1.2e-6,"MC":1e-9},{"E":6200,"Data":1e-9,"MC":1e-9},{"E":6260,"Data":1.2e-6,"MC":1e-9},{"E":6300,"Data":1e-9,"MC":1e-9},{"E":6330,"Data":1e-9,"MC":1e-9}
],
"p4": [
{"E":0,"m":1e-9,"p":1e-9},{"E":10,"m":520,"p":520},{"E":30,"m":480,"p":460},{"E":50,"m":380,"p":400},{"E":70,"m":220,"p":300},{"E":90,"m":130,"p":240},{"E":110,"m":110,"p":210},{"E":130,"m":125,"p":200},{"E":150,"m":140,"p":210},{"E":175,"m":180,"p":230},{"E":200,"m":225,"p":250},{"E":225,"m":280,"p":330},{"E":250,"m":350,"p":440},{"E":275,"m":450,"p":530},{"E":300,"m":540,"p":620},{"E":325,"m":640,"p":730},{"E":350,"m":720,"p":850},{"E":375,"m":750,"p":930},{"E":400,"m":760,"p":1000},{"E":450,"m":760,"p":1120},{"E":500,"m":800,"p":1250},{"E":550,"m":890,"p":1480},{"E":575,"m":1100,"p":1700},{"E":600,"m":1700,"p":2100},{"E":625,"m":3500,"p":4000},{"E":650,"m":9000,"p":9000},{"E":675,"m":22000,"p":22000},{"E":700,"m":49000,"p":49000},{"E":725,"m":100000,"p":100000},{"E":750,"m":165000,"p":165000},{"E":775,"m":240000,"p":240000},{"E":800,"m":310000,"p":310000},{"E":850,"m":390000,"p":390000},{"E":900,"m":440000,"p":440000},{"E":950,"m":490000,"p":490000},{"E":1000,"m":520000,"p":520000},{"E":1050,"m":490000,"p":490000},{"E":1075,"m":400000,"p":400000},{"E":1100,"m":270000,"p":270000},{"E":1125,"m":170000,"p":170000},{"E":1150,"m":107000,"p":100000},{"E":1175,"m":50000,"p":45000},{"E":1200,"m":28000,"p":20000},{"E":1225,"m":21000,"p":10000},{"E":1250,"m":18000,"p":5100},{"E":1275,"m":17000,"p":1600},{"E":1300,"m":16000,"p":540},{"E":1325,"m":14500,"p":350},{"E":1350,"m":12700,"p":275},{"E":1400,"m":8000,"p":225},{"E":1450,"m":4100,"p":180},{"E":1500,"m":2100,"p":115},{"E":1550,"m":1100,"p":85},{"E":1600,"m":670,"p":65},{"E":1650,"m":450,"p":57},{"E":1700,"m":315,"p":51},{"E":1750,"m":240,"p":45},{"E":1800,"m":195,"p":41},{"E":1850,"m":150,"p":38},{"E":1900,"m":125,"p":36},{"E":1950,"m":110,"p":33},{"E":2000,"m":100,"p":30},{"E":2025,"m":90,"p":26},{"E":2050,"m":105,"p":31},{"E":2075,"m":95,"p":22},{"E":2100,"m":110,"p":25},{"E":2125,"m":88,"p":20},{"E":2150,"m":100,"p":23},{"E":2175,"m":92,"p":18},{"E":2200,"m":115,"p":20},{"E":2225,"m":95,"p":16},{"E":2250,"m":105,"p":18},{"E":2275,"m":90,"p":14},{"E":2300,"m":108,"p":13},{"E":2325,"m":96,"p":15},{"E":2350,"m":112,"p":11},{"E":2375,"m":90,"p":12},{"E":2400,"m":104,"p":9},{"E":2425,"m":95,"p":10},{"E":2450,"m":110,"p":8},{"E":2475,"m":86,"p":9},{"E":2500,"m":100,"p":6},{"E":2525,"m":92,"p":7},{"E":2550,"m":108,"p":5},{"E":2575,"m":80,"p":6},{"E":2600,"m":95,"p":4.5},{"E":2625,"m":150,"p":3.5},{"E":2650,"m":245,"p":5},{"E":2675,"m":400,"p":3},{"E":2700,"m":620,"p":4},{"E":2750,"m":1200,"p":3.5},{"E":2800,"m":2100,"p":5},{"E":2850,"m":3000,"p":4},{"E":2900,"m":4100,"p":6},{"E":2950,"m":5000,"p":5.5},{"E":3000,"m":5700,"p":7.5},{"E":3050,"m":6500,"p":6},{"E":3100,"m":7200,"p":8},{"E":3150,"m":7500,"p":6.5},{"E":3200,"m":7700,"p":9},{"E":3250,"m":7500,"p":5.5},{"E":3300,"m":7200,"p":4},{"E":3350,"m":6500,"p":3},{"E":3400,"m":5700,"p":2},{"E":3450,"m":4800,"p":2.5},{"E":3500,"m":3900,"p":1.3},{"E":3550,"m":3000,"p":2},{"E":3600,"m":2100,"p":1},{"E":3650,"m":1400,"p":1e-9},{"E":3700,"m":950,"p":1},{"E":3750,"m":600,"p":2},{"E":3800,"m":380,"p":1},{"E":3850,"m":260,"p":1e-9},{"E":3900,"m":180,"p":1},{"E":3950,"m":110,"p":1.5},{"E":4000,"m":65,"p":1},{"E":4050,"m":45,"p":1e-9},{"E":4100,"m":33,"p":1},{"E":4150,"m":24,"p":2},{"E":4200,"m":19,"p":1},{"E":4250,"m":15,"p":1e-9},{"E":4300,"m":13,"p":1},{"E":4350,"m":11,"p":1e-9},{"E":4400,"m":12,"p":1},{"E":4425,"m":2,"p":1e-9},{"E":4450,"m":10,"p":1},{"E":4500,"m":9,"p":1e-9},{"E":4550,"m":12,"p":1},{"E":4600,"m":8,"p":1e-9},{"E":4650,"m":13,"p":1},{"E":4700,"m":10,"p":1e-9},{"E":4750,"m":14,"p":1},{"E":4800,"m":11,"p":2.5},{"E":4850,"m":17,"p":1},{"E":4900,"m":20,"p":1e-9},{"E":4950,"m":26,"p":2},{"E":5000,"m":33,"p":1},{"E":5050,"m":50,"p":1e-9},{"E":5100,"m":70,"p":1},{"E":5150,"m":85,"p":1},{"E":5200,"m":100,"p":1e-9},{"E":5250,"m":110,"p":1},{"E":5300,"m":125,"p":1},{"E":5350,"m":135,"p":1e-9},{"E":5400,"m":150,"p":1},{"E":5450,"m":155,"p":1e-9},{"E":5500,"m":160,"p":1},{"E":5550,"m":165,"p":1},{"E":5600,"m":160,"p":2},{"E":5650,"m":150,"p":1e-9},{"E":5700,"m":140,"p":1},{"E":5750,"m":125,"p":1e-9},{"E":5800,"m":110,"p":1},{"E":5850,"m":95,"p":1e-9},{"E":5900,"m":80,"p":1},{"E":5950,"m":60,"p":1e-9},{"E":6000,"m":45,"p":1},{"E":6050,"m":35,"p":1e-9},{"E":6100,"m":25,"p":1},{"E":6150,"m":15,"p":1e-9},{"E":6200,"m":9,"p":1},{"E":6250,"m":6,"p":1e-9},{"E":6300,"m":4.5,"p":1},{"E":6350,"m":3,"p":1e-9},{"E":6400,"m":2,"p":1e-9},{"E":6450,"m":1,"p":1},{"E":6500,"m":2,"p":1e-9},{"E":6550,"m":1,"p":1e-9},{"E":6600,"m":1e-9,"p":1},{"E":6650,"m":1,"p":1e-9},{"E":6700,"m":2,"p":1e-9},{"E":6750,"m":1,"p":1e-9},{"E":6800,"m":1e-9,"p":1e-9},{"E":6850,"m":1,"p":1e-9},{"E":6900,"m":1,"p":1e-9},{"E":6950,"m":2,"p":1e-9},{"E":7000,"m":1,"p":1e-9},{"E":7050,"m":1e-9,"p":1e-9},{"E":7100,"m":1,"p":1e-9},{"E":7150,"m":1,"p":1e-9},{"E":7200,"m":1e-9,"p":1e-9},{"E":7250,"m":1,"p":1e-9},{"E":7300,"m":1,"p":1},{"E":7350,"m":1e-9,"p":1e-9},{"E":7400,"m":2,"p":1},{"E":7450,"m":3,"p":1e-9},{"E":7500,"m":4,"p":1e-9},{"E":7550,"m":2,"p":1e-9},{"E":7600,"m":5,"p":1e-9},{"E":7650,"m":3,"p":1e-9},{"E":7700,"m":6,"p":1e-9},{"E":7750,"m":4,"p":1e-9},{"E":7800,"m":7,"p":1e-9},{"E":7850,"m":10,"p":1e-9},{"E":7900,"m":5,"p":1e-9},{"E":7950,"m":8,"p":1e-9},{"E":8000,"m":4,"p":1e-9},{"E":8050,"m":7,"p":1e-9},{"E":8100,"m":3,"p":1e-9},{"E":8150,"m":5,"p":1e-9},{"E":8200,"m":2,"p":1e-9},{"E":8250,"m":1,"p":1e-9},{"E":8300,"m":2,"p":1e-9},{"E":8350,"m":1,"p":1e-9},{"E":8400,"m":1e-9,"p":1e-9},{"E":8450,"m":2,"p":1e-9},{"E":8500,"m":1,"p":1e-9},{"E":8550,"m":1e-9,"p":1e-9},{"E":8600,"m":1,"p":1e-9},{"E":8650,"m":1e-9,"p":1e-9},{"E":8700,"m":1,"p":1e-9},{"E":8750,"m":1e-9,"p":1e-9},{"E":8800,"m":1,"p":1e-9},{"E":8850,"m":1e-9,"p":1e-9},{"E":8950,"m":1,"p":1e-9},{"E":9000,"m":1e-9,"p":1e-9},{"E":9400,"m":1,"p":1e-9},{"E":9450,"m":1e-9,"p":1e-9},{"E":9700,"m":1,"p":1e-9},{"E":9725,"m":1e-9,"p":1e-9},{"E":10000,"m":1e-9,"p":1e-9}
]
},
"vconcat": [
{
  "width": 659, "height": 212,
  "title": {"text": "Stop pad energy E0", "fontSize": 12, "offset": -2},
  "view": {"stroke": "#222", "strokeWidth": 1},
  "resolve": {"axis": {"x": "independent", "y": "independent"}},
  "layer": [
    {
      "data": {"name": "p1"},
      "transform": [{"fold": ["Data", "MC"], "as": ["series", "value"]}],
      "mark": {"type": "line", "interpolate": "step-after", "strokeWidth": 2, "clip": true},
      "encoding": {
        "x": {"field": "E", "type": "quantitative", "scale": {"domain": [0, 4580], "nice": false, "zero": false},
          "axis": {"orient": "bottom", "title": "Energy (ch)", "titleAnchor": "end", "titleFontSize": 9.5, "titlePadding": -1, "format": "d", "labelOverlap": false,
            "values": [0,500,1000,1500,2000,2500,3000,3500,4000,4500],
            "labelFontSize": 11, "labelPadding": 4, "tickSize": -7}},
        "y": {"field": "value", "type": "quantitative", "scale": {"type": "log", "domain": [1.245e-6, 0.0759], "nice": false},
          "axis": {"orient": "left", "title": null, "labelOverlap": "greedy",
            "values": [2e-6,3e-6,4e-6,5e-6,6e-6,7e-6,8e-6,9e-6,1e-5,2e-5,3e-5,4e-5,5e-5,6e-5,7e-5,8e-5,9e-5,1e-4,2e-4,3e-4,4e-4,5e-4,6e-4,7e-4,8e-4,9e-4,1e-3,2e-3,3e-3,4e-3,5e-3,6e-3,7e-3,8e-3,9e-3,0.01,0.02,0.03,0.04,0.05,0.06,0.07],
            "labelExpr": "abs(log(datum.value)/LN10 - round(log(datum.value)/LN10)) < 0.001 ? '10⁻' + substring('⁰¹²³⁴⁵⁶⁷⁸⁹', -round(log(datum.value)/LN10), -round(log(datum.value)/LN10) + 1) : ''",
            "labelFontSize": 7.5, "labelPadding": 33,
            "tickSize": {"condition": {"test": "abs(log(datum.value)/LN10 - round(log(datum.value)/LN10)) < 0.001", "value": -21}, "value": -11}}},
        "color": {"field": "series", "type": "nominal", "scale": {"domain": ["Data", "MC"], "range": ["#0000a0", "#ff1a1a"]},
          "legend": {"orient": "none", "legendX": 618, "legendY": -13, "title": null, "fillColor": "#f0f0f0", "strokeColor": "#222", "padding": 6, "labelFontSize": 12, "labelColor": "#000", "labelExpr": "'mu- ' + datum.label", "symbolSize": 225, "symbolStrokeWidth": 2, "rowPadding": 14, "labelOffset": 7}},
        "strokeDash": {"field": "series", "type": "nominal", "scale": {"domain": ["Data", "MC"], "range": [[1, 0], [4, 3]]},
          "legend": {"orient": "none", "legendX": 618, "legendY": -13, "title": null, "fillColor": "#f0f0f0", "strokeColor": "#222", "padding": 6, "labelFontSize": 12, "labelColor": "#000", "labelExpr": "'mu- ' + datum.label", "symbolSize": 225, "symbolStrokeWidth": 2, "rowPadding": 14, "labelOffset": 7}}
      }
    },
    {
      "data": {"values": [{"x1": 3890, "x2": 4900, "y1": 0.1212, "y2": 0.01297}]},
      "mark": {"type": "rect", "fill": "white", "stroke": "#444", "strokeWidth": 1, "clip": false},
      "encoding": {
        "x": {"field": "x1", "type": "quantitative",
          "axis": {"orient": "bottom", "title": null, "labels": false, "domain": false, "tickSize": -4,
            "values": [0,100,200,300,400,500,600,700,800,900,1000,1100,1200,1300,1400,1500,1600,1700,1800,1900,2000,2100,2200,2300,2400,2500,2600,2700,2800,2900,3000,3100,3200,3300,3400,3500,3600,3700,3800,3900,4000,4100,4200,4300,4400,4500]}},
        "x2": {"field": "x2"},
        "y": {"field": "y1", "type": "quantitative", "axis": null}, "y2": {"field": "y2"}}
    },
    {
      "data": {"values": [{"t": "Entries", "tx": 3934, "ty": 0.0527}, {"t": "Mean", "tx": 3934, "ty": 0.0314}, {"t": "RMS", "tx": 3934, "ty": 0.0187}]},
      "mark": {"type": "text", "align": "left", "baseline": "middle", "fontSize": 8.5, "color": "#333", "clip": false},
      "encoding": {"x": {"field": "tx", "type": "quantitative", "axis": null}, "y": {"field": "ty", "type": "quantitative", "axis": null}, "text": {"field": "t"}}
    },
    {
      "data": {"values": [{"t": "MC Vs Data", "tx": 2488, "ty": 0.00393}]},
      "mark": {"type": "text", "align": "center", "baseline": "alphabetic", "font": "DejaVu Sans", "fontWeight": "bold", "fontSize": 49, "color": "#c00000", "clip": false},
      "encoding": {"x": {"field": "tx", "type": "quantitative", "axis": null}, "y": {"field": "ty", "type": "quantitative", "axis": null}, "text": {"field": "t"}}
    }
  ]
},
{
  "width": 659, "height": 214,
  "title": {"text": "S Energy", "fontSize": 12, "offset": -2},
  "view": {"stroke": "#222", "strokeWidth": 1},
  "resolve": {"axis": {"x": "independent", "y": "independent"}},
  "layer": [
    {
      "data": {"name": "p2"},
      "transform": [{"fold": ["Data", "MC"], "as": ["series", "value"]}],
      "mark": {"type": "line", "interpolate": "step-after", "strokeWidth": 2, "clip": true},
      "encoding": {
        "x": {"field": "E", "type": "quantitative", "scale": {"domain": [0, 6230], "nice": false, "zero": false},
          "axis": {"orient": "bottom", "title": "Energy (ch)", "titleAnchor": "end", "titleFontSize": 9.5, "titlePadding": -1, "format": "d", "labelOverlap": false,
            "values": [0,1000,2000,3000,4000,5000,6000],
            "labelFontSize": 11, "labelPadding": 4, "tickSize": -7}},
        "y": {"field": "value", "type": "quantitative", "scale": {"type": "log", "domain": [1.62e-7, 0.01535], "nice": false},
          "axis": {"orient": "left", "title": null, "labelOverlap": "greedy",
            "values": [2e-7,3e-7,4e-7,5e-7,6e-7,7e-7,8e-7,9e-7,1e-6,2e-6,3e-6,4e-6,5e-6,6e-6,7e-6,8e-6,9e-6,1e-5,2e-5,3e-5,4e-5,5e-5,6e-5,7e-5,8e-5,9e-5,1e-4,2e-4,3e-4,4e-4,5e-4,6e-4,7e-4,8e-4,9e-4,1e-3,2e-3,3e-3,4e-3,5e-3,6e-3,7e-3,8e-3,9e-3,0.01],
            "labelExpr": "abs(log(datum.value)/LN10 - round(log(datum.value)/LN10)) < 0.001 ? '10⁻' + substring('⁰¹²³⁴⁵⁶⁷⁸⁹', -round(log(datum.value)/LN10), -round(log(datum.value)/LN10) + 1) : ''",
            "labelFontSize": 7.5, "labelPadding": 33,
            "tickSize": {"condition": {"test": "abs(log(datum.value)/LN10 - round(log(datum.value)/LN10)) < 0.001", "value": -21}, "value": -11}}},
        "color": {"field": "series", "type": "nominal", "scale": {"domain": ["Data", "MC"], "range": ["#0000a0", "#ff1a1a"]},
          "legend": {"orient": "none", "legendX": 618, "legendY": -13, "title": null, "fillColor": "#f0f0f0", "strokeColor": "#222", "padding": 6, "labelFontSize": 12, "labelColor": "#000", "labelExpr": "'mu- ' + datum.label", "symbolSize": 225, "symbolStrokeWidth": 2, "rowPadding": 14, "labelOffset": 7}},
        "strokeDash": {"field": "series", "type": "nominal", "scale": {"domain": ["Data", "MC"], "range": [[1, 0], [4, 3]]},
          "legend": {"orient": "none", "legendX": 618, "legendY": -13, "title": null, "fillColor": "#f0f0f0", "strokeColor": "#222", "padding": 6, "labelFontSize": 12, "labelColor": "#000", "labelExpr": "'mu- ' + datum.label", "symbolSize": 225, "symbolStrokeWidth": 2, "rowPadding": 14, "labelOffset": 7}}
      }
    },
    {
      "data": {"values": [{"x1": 5293, "x2": 6665, "y1": 0.02355, "y2": 0.00248}]},
      "mark": {"type": "rect", "fill": "white", "stroke": "#444", "strokeWidth": 1, "clip": false},
      "encoding": {
        "x": {"field": "x1", "type": "quantitative",
          "axis": {"orient": "bottom", "title": null, "labels": false, "domain": false, "tickSize": -4,
            "values": [0,200,400,600,800,1000,1200,1400,1600,1800,2000,2200,2400,2600,2800,3000,3200,3400,3600,3800,4000,4200,4400,4600,4800,5000,5200,5400,5600,5800,6000,6200]}},
        "x2": {"field": "x2"},
        "y": {"field": "y1", "type": "quantitative", "axis": null}, "y2": {"field": "y2"}}
    },
    {
      "data": {"values": [{"t": "Entries", "tx": 5350, "ty": 0.01055}, {"t": "Mean", "tx": 5350, "ty": 0.00585}, {"t": "RMS", "tx": 5350, "ty": 0.00343}]},
      "mark": {"type": "text", "align": "left", "baseline": "middle", "fontSize": 8.5, "color": "#333", "clip": false},
      "encoding": {"x": {"field": "tx", "type": "quantitative", "axis": null}, "y": {"field": "ty", "type": "quantitative", "axis": null}, "text": {"field": "t"}}
    }
  ]
},
{
  "width": 659, "height": 214,
  "title": {"text": "S9 Energy", "fontSize": 12, "offset": -2},
  "view": {"stroke": "#222", "strokeWidth": 1},
  "resolve": {"axis": {"x": "independent", "y": "independent"}},
  "layer": [
    {
      "data": {"name": "p3"},
      "transform": [{"fold": ["Data", "MC"], "as": ["series", "value"]}],
      "mark": {"type": "line", "interpolate": "step-after", "strokeWidth": 2, "clip": true},
      "encoding": {
        "x": {"field": "E", "type": "quantitative", "scale": {"domain": [0, 6330], "nice": false, "zero": false},
          "axis": {"orient": "bottom", "title": "Energy (ch)", "titleAnchor": "end", "titleFontSize": 9.5, "titlePadding": -1, "format": "d", "labelOverlap": false,
            "values": [0,1000,2000,3000,4000,5000,6000],
            "labelFontSize": 11, "labelPadding": 4, "tickSize": -7}},
        "y": {"field": "value", "type": "quantitative", "scale": {"type": "log", "domain": [5.46e-7, 0.01148], "nice": false},
          "axis": {"orient": "left", "title": null, "labelOverlap": "greedy",
            "values": [6e-7,7e-7,8e-7,9e-7,1e-6,2e-6,3e-6,4e-6,5e-6,6e-6,7e-6,8e-6,9e-6,1e-5,2e-5,3e-5,4e-5,5e-5,6e-5,7e-5,8e-5,9e-5,1e-4,2e-4,3e-4,4e-4,5e-4,6e-4,7e-4,8e-4,9e-4,1e-3,2e-3,3e-3,4e-3,5e-3,6e-3,7e-3,8e-3,9e-3,0.01],
            "labelExpr": "abs(log(datum.value)/LN10 - round(log(datum.value)/LN10)) < 0.001 ? '10⁻' + substring('⁰¹²³⁴⁵⁶⁷⁸⁹', -round(log(datum.value)/LN10), -round(log(datum.value)/LN10) + 1) : ''",
            "labelFontSize": 7.5, "labelPadding": 33,
            "tickSize": {"condition": {"test": "abs(log(datum.value)/LN10 - round(log(datum.value)/LN10)) < 0.001", "value": -21}, "value": -11}}},
        "color": {"field": "series", "type": "nominal", "scale": {"domain": ["Data", "MC"], "range": ["#0000a0", "#ff1a1a"]},
          "legend": {"orient": "none", "legendX": 618, "legendY": -12, "title": null, "fillColor": "#f0f0f0", "strokeColor": "#222", "padding": 6, "labelFontSize": 12, "labelColor": "#000", "labelExpr": "'mu- ' + datum.label", "symbolSize": 225, "symbolStrokeWidth": 2, "rowPadding": 14, "labelOffset": 7}},
        "strokeDash": {"field": "series", "type": "nominal", "scale": {"domain": ["Data", "MC"], "range": [[1, 0], [4, 3]]},
          "legend": {"orient": "none", "legendX": 618, "legendY": -12, "title": null, "fillColor": "#f0f0f0", "strokeColor": "#222", "padding": 6, "labelFontSize": 12, "labelColor": "#000", "labelExpr": "'mu- ' + datum.label", "symbolSize": 225, "symbolStrokeWidth": 2, "rowPadding": 14, "labelOffset": 7}}
      }
    },
    {
      "data": {"values": [{"x1": 5378, "x2": 6772, "y1": 0.01746, "y2": 0.00237}]},
      "mark": {"type": "rect", "fill": "white", "stroke": "#444", "strokeWidth": 1, "clip": false},
      "encoding": {
        "x": {"field": "x1", "type": "quantitative",
          "axis": {"orient": "bottom", "title": null, "labels": false, "domain": false, "tickSize": -4,
            "values": [0,200,400,600,800,1000,1200,1400,1600,1800,2000,2200,2400,2600,2800,3000,3200,3400,3600,3800,4000,4200,4400,4600,4800,5000,5200,5400,5600,5800,6000,6200]}},
        "x2": {"field": "x2"},
        "y": {"field": "y1", "type": "quantitative", "axis": null}, "y2": {"field": "y2"}}
    },
    {
      "data": {"values": [{"t": "Entries", "tx": 5435, "ty": 0.0083}, {"t": "Mean", "tx": 5435, "ty": 0.00497}, {"t": "RMS", "tx": 5435, "ty": 0.00313}]},
      "mark": {"type": "text", "align": "left", "baseline": "middle", "fontSize": 8.5, "color": "#333", "clip": false},
      "encoding": {"x": {"field": "tx", "type": "quantitative", "axis": null}, "y": {"field": "ty", "type": "quantitative", "axis": null}, "text": {"field": "t"}}
    }
  ]
},
{
  "width": 662, "height": 430,
  "title": {"text": "Energy Deposition of Charged Particles", "fontSize": 21, "offset": 13, "dx": -24, "color": "#000"},
  "view": {"stroke": "#000", "strokeWidth": 2},
  "resolve": {"axis": {"x": "independent", "y": "independent"}},
  "layer": [
    {
      "data": {"name": "p4"},
      "mark": {"type": "line", "interpolate": "step-after", "strokeWidth": 2, "color": "#000", "clip": true},
      "encoding": {
        "x": {"field": "E", "type": "quantitative", "scale": {"domain": [0, 10000], "nice": false, "zero": false},
          "axis": {"orient": "bottom", "title": "Energy (channels)", "titleAnchor": "end", "titleFontSize": 23, "titlePadding": 2, "titleColor": "#000", "format": "d", "labelOverlap": false,
            "values": [0,2000,4000,6000,8000,10000],
            "labelFontSize": 24, "labelColor": "#000", "labelPadding": 16, "domain": false, "tickColor": "#000", "tickWidth": 1.3, "tickSize": -12}},
        "y": {"field": "m", "type": "quantitative", "scale": {"type": "log", "domain": [0.519, 1020000], "nice": false, "clamp": true},
          "axis": {"orient": "left", "title": null, "labelOverlap": "greedy",
            "values": [0.6,0.7,0.8,0.9,1,2,3,4,5,6,7,8,9,10,20,30,40,50,60,70,80,90,100,200,300,400,500,600,700,800,900,1000,2000,3000,4000,5000,6000,7000,8000,9000,10000,20000,30000,40000,50000,60000,70000,80000,90000,100000,200000,300000,400000,500000,600000,700000,800000,900000],
            "labelExpr": "abs(log(datum.value)/LN10 - round(log(datum.value)/LN10)) < 0.001 ? (round(log(datum.value)/LN10) == 0 ? '1' : round(log(datum.value)/LN10) == 1 ? '10' : '10' + substring('⁰¹²³⁴⁵⁶⁷⁸⁹', round(log(datum.value)/LN10), round(log(datum.value)/LN10) + 1)) : ''",
            "labelFontSize": 25, "labelColor": "#000", "labelPadding": 26, "domain": false, "tickColor": "#000", "tickWidth": 1.2,
            "tickSize": {"condition": {"test": "abs(log(datum.value)/LN10 - round(log(datum.value)/LN10)) < 0.001", "value": -18}, "value": -10}}}
      }
    },
    {
      "data": {"name": "p4"},
      "mark": {"type": "line", "interpolate": "step-after", "strokeWidth": 2, "color": "#ff1a1a", "clip": true},
      "encoding": {
        "x": {"field": "E", "type": "quantitative",
          "axis": {"orient": "top", "title": null, "labels": false, "domain": false, "tickColor": "#000", "tickWidth": 1.3,
            "values": [0,500,1000,1500,2000,2500,3000,3500,4000,4500,5000,5500,6000,6500,7000,7500,8000,8500,9000,9500,10000],
            "tickSize": {"condition": {"test": "datum.value % 2000 == 0", "value": -12}, "value": -8}}},
        "y": {"field": "p", "type": "quantitative",
          "axis": {"orient": "right", "title": null, "labels": false, "domain": false, "tickColor": "#000", "tickWidth": 1.2,
            "values": [0.6,0.7,0.8,0.9,1,2,3,4,5,6,7,8,9,10,20,30,40,50,60,70,80,90,100,200,300,400,500,600,700,800,900,1000,2000,3000,4000,5000,6000,7000,8000,9000,10000,20000,30000,40000,50000,60000,70000,80000,90000,100000,200000,300000,400000,500000,600000,700000,800000,900000],
            "tickSize": {"condition": {"test": "abs(log(datum.value)/LN10 - round(log(datum.value)/LN10)) < 0.001", "value": -18}, "value": -10}}}
      }
    },
    {
      "data": {"values": [
        {"t": "Muon stopping pad", "g": "a", "x1": 1549, "x2": 4030, "y1": 558000, "y2": 248000, "tx": 2790, "ty": 373000},
        {"t": "³He + muon", "g": "a", "x1": 1669, "x2": 3143, "y1": 115000, "y2": 39000, "tx": 2406, "ty": 66700},
        {"t": "p-t", "g": "b", "x1": 3414, "x2": 4421, "y1": 22700, "y2": 9400, "tx": 3917, "ty": 14600},
        {"t": "α source", "g": "a", "x1": 2481, "x2": 3940, "y1": 50.8, "y2": 25.9, "tx": 3211, "ty": 36.3},
        {"t": "2 p-t", "g": "b", "x1": 5684, "x2": 6827, "y1": 615, "y2": 232, "tx": 6256, "ty": 378},
        {"t": "3 p-t", "g": "b", "x1": 7639, "x2": 8752, "y1": 50.8, "y2": 18.5, "tx": 8196, "ty": 30.6}
      ]},
      "layer": [
        {
          "mark": {"type": "rect", "fill": "white", "stroke": "#000", "strokeWidth": 1.3},
          "encoding": {
            "x": {"field": "x1", "type": "quantitative",
              "axis": {"orient": "bottom", "title": null, "labels": false, "domain": false, "tickColor": "#000", "tickWidth": 1.3, "tickSize": -8,
                "values": [500,1000,1500,2500,3000,3500,4500,5000,5500,6500,7000,7500,8500,9000,9500]}},
            "x2": {"field": "x2"}, "y": {"field": "y1", "type": "quantitative", "axis": null}, "y2": {"field": "y2"}}
        },
        {
          "mark": {"type": "text", "align": "center", "baseline": "middle", "color": "#000"},
          "encoding": {"x": {"field": "tx", "type": "quantitative", "axis": null}, "y": {"field": "ty", "type": "quantitative", "axis": null}, "text": {"field": "t"},
            "size": {"field": "g", "type": "nominal", "scale": {"domain": ["a", "b"], "range": [17.5, 21]}, "legend": null}}
        }
      ]
    },
    {
      "data": {"values": [
        {"k": "a1", "x1": 1624, "y1": 217000, "x2": 1173, "y2": 166000},
        {"k": "a2", "x1": 1820, "y1": 30800, "x2": 1368, "y2": 15700},
        {"k": "a3", "x1": 3398, "y1": 23.4, "x2": 3233, "y2": 8.5}
      ]},
      "layer": [
        {
          "mark": {"type": "rule", "strokeWidth": 2, "color": "#000"},
          "encoding": {"x": {"field": "x1", "type": "quantitative", "axis": null}, "x2": {"field": "x2"}, "y": {"field": "y1", "type": "quantitative", "axis": null}, "y2": {"field": "y2"}}
        },
        {
          "transform": [{"filter": "datum.k == 'a1'"}],
          "mark": {"type": "point", "shape": "triangle-up", "filled": true, "color": "#000", "opacity": 1, "size": 60, "angle": 255},
          "encoding": {"x": {"field": "x2", "type": "quantitative", "axis": null}, "y": {"field": "y2", "type": "quantitative", "axis": null}}
        },
        {
          "transform": [{"filter": "datum.k == 'a2'"}],
          "mark": {"type": "point", "shape": "triangle-up", "filled": true, "color": "#000", "opacity": 1, "size": 60, "angle": 236},
          "encoding": {"x": {"field": "x2", "type": "quantitative", "axis": null}, "y": {"field": "y2", "type": "quantitative", "axis": null}}
        },
        {
          "transform": [{"filter": "datum.k == 'a3'"}],
          "mark": {"type": "point", "shape": "triangle-up", "filled": true, "color": "#000", "opacity": 1, "size": 60, "angle": 200},
          "encoding": {"x": {"field": "x2", "type": "quantitative", "axis": null}, "y": {"field": "y2", "type": "quantitative", "axis": null}}
        }
      ]
    },
    {
      "data": {"values": [{"t": "μ-", "tx": 7985, "ty": 115000}]},
      "mark": {"type": "text", "align": "left", "baseline": "alphabetic", "fontSize": 44, "color": "#000"},
      "encoding": {"x": {"field": "tx", "type": "quantitative", "axis": null}, "y": {"field": "ty", "type": "quantitative", "axis": null}, "text": {"field": "t"}}
    },
    {
      "data": {"values": [{"t": "μ+", "tx": 7985, "ty": 11200}]},
      "mark": {"type": "text", "align": "left", "baseline": "alphabetic", "fontSize": 44, "color": "#ee1c1c"},
      "encoding": {"x": {"field": "tx", "type": "quantitative", "axis": null}, "y": {"field": "ty", "type": "quantitative", "axis": null}, "text": {"field": "t"}}
    }
  ]
}
]
}
